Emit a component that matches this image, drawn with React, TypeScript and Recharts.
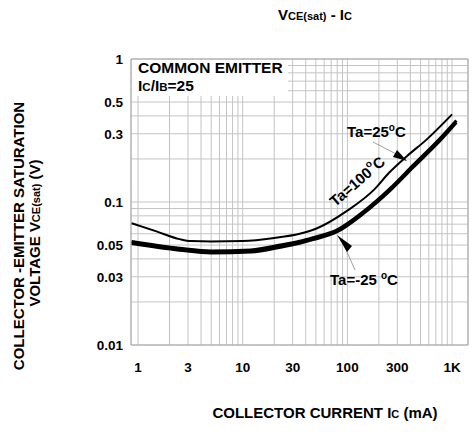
import { LineChart, Line, XAxis, YAxis, CartesianGrid, ReferenceArea } from "recharts";

// collector current (mA) and VCE(sat) (V)
const ic100 = [0.87, 1.5, 2.5, 3.2, 5, 10, 20, 35, 50, 100, 180, 250, 370, 570, 1000];
const vce100 = [0.071, 0.0623, 0.055, 0.0533, 0.053, 0.0533, 0.056, 0.06, 0.065, 0.087, 0.122, 0.16, 0.209, 0.273, 0.41];

const icLow = [0.87, 2.5, 5, 12, 23, 35, 47, 79, 142, 255, 426, 766, 1100];
const vce25 = [0.053, 0.0475, 0.0455, 0.0462, 0.05, 0.0532, 0.0564, 0.0636, 0.0855, 0.124, 0.181, 0.278, 0.372];
const vceM25 = [0.0512, 0.046, 0.044, 0.0447, 0.0483, 0.0515, 0.0546, 0.0617, 0.083, 0.12, 0.175, 0.268, 0.36];

const xTicks = [1, 2, 3, 4, 5, 6, 7, 8, 9, 10, 20, 30, 40, 50, 60, 70, 80, 90, 100, 200, 300, 400, 500, 600, 700, 800, 900, 1000];
const xLabels: Record<number, string> = { 1: "1", 3: "3", 10: "10", 30: "30", 100: "100", 300: "300", 1000: "1K" };
const yTicks = [0.01, 0.02, 0.03, 0.04, 0.05, 0.06, 0.07, 0.08, 0.09, 0.1, 0.2, 0.3, 0.4, 0.5, 0.6, 0.7, 0.8, 0.9, 1];
const yLabels: Record<number, string> = { 0.01: "0.01", 0.03: "0.03", 0.05: "0.05", 0.1: "0.1", 0.3: "0.3", 0.5: "0.5", 1: "1" };

const toPts = (xs: number[], ys: number[]) => xs.map((x, i) => ({ x, y: ys[i] }));
const d100 = toPts(ic100, vce100);
const d25 = toPts(icLow, vce25);
const dM25 = toPts(icLow, vceM25);

const font = "'Liberation Sans', Arial, sans-serif";
const tickStyle = { fontFamily: font, fontWeight: 700, fontSize: 13.5, fill: "#000" };

export default function App() {
  return (
    <div style={{ position: "absolute", left: 0, top: 0, width: 475, height: 434, background: "#fff" }}>
      <LineChart width={475} height={434} margin={{ top: 59, right: 7, bottom: 59, left: 61 }}>
        <CartesianGrid stroke="#c4c4c4" strokeWidth={1} />
        <XAxis
          dataKey="x"
          type="number"
          scale="log"
          domain={[0.857, 1420]}
          ticks={xTicks}
          tickFormatter={(v: number) => xLabels[v] ?? ""}
          tick={tickStyle}
          tickLine={false}
          axisLine={false}
          tickMargin={11}
          height={30}
          allowDataOverflow
          interval={0}
        />
        <YAxis
          type="number"
          scale="log"
          domain={[0.01, 1]}
          ticks={yTicks}
          tickFormatter={(v: number) => yLabels[v] ?? ""}
          tick={tickStyle}
          tickLine={false}
          axisLine={false}
          width={70}
          allowDataOverflow
          interval={0}
        />
        <ReferenceArea x1={0.857} x2={1420} y1={0.01} y2={1} fill="none" stroke="#a8a8a8" strokeWidth={1} ifOverflow="visible" />
        <Line data={d100} dataKey="y" type="monotone" stroke="#000" strokeWidth={2} dot={false} isAnimationActive={false} />
        <Line data={d25} dataKey="y" type="monotone" stroke="#000" strokeWidth={3} dot={false} isAnimationActive={false} />
        <Line data={dM25} dataKey="y" type="monotone" stroke="#000" strokeWidth={3} dot={false} isAnimationActive={false} />
      </LineChart>
      <svg width={475} height={434} style={{ position: "absolute", left: 0, top: 0, pointerEvents: "none" }} fontFamily={font} fontWeight={700}>
        <text x={278} y={20} fontSize={15}>
          V<tspan fontSize={11}>CE(sat)</tspan> - I<tspan fontSize={11}>C</tspan>
        </text>
        <rect x={132} y={60} width={156} height={36} fill="#fff" />
        <text x={138} y={73} fontSize={15.5}>COMMON EMITTER</text>
        <text x={138} y={91} fontSize={15.5}>
          I<tspan fontSize={11.5}>C</tspan>/I<tspan fontSize={11.5}>B</tspan>=25
        </text>
        <text x={347} y={137} fontSize={15}>
          Ta=25<tspan fontSize={10} dy={-6}>o</tspan><tspan dy={6}>C</tspan>
        </text>
        <text x={357} y={181} fontSize={15} textAnchor="middle" dominantBaseline="central" transform="rotate(-41 357 181)">
          Ta=100<tspan fontSize={10} dy={-6}>o</tspan><tspan dy={6}>C</tspan>
        </text>
        <text x={330} y={285} fontSize={15}>
          Ta=-25 <tspan fontSize={10} dy={-6}>o</tspan><tspan dy={6}>C</tspan>
        </text>
        <line x1={373} y1={142} x2={400} y2={156} stroke="#777" strokeWidth={0.7} />
        <polygon points="407,161 393,157 397,150" fill="#000" />
        <line x1={355} y1={270} x2={343} y2={243} stroke="#777" strokeWidth={0.7} />
        <polygon points="337,235 347,252 352,246" fill="#000" />
        <text transform="translate(24,236) rotate(-90)" fontSize={15} textAnchor="middle">
          COLLECTOR -EMITTER SATURATION
        </text>
        <text transform="translate(40,233) rotate(-90)" fontSize={15} textAnchor="middle">
          VOLTAGE V<tspan fontSize={11}>CE(sat)</tspan> (V)
        </text>
        <text x={325} y={418} fontSize={15} textAnchor="middle">
          COLLECTOR CURRENT I<tspan fontSize={11}>C</tspan> (mA)
        </text>
      </svg>
    </div>
  );
}
